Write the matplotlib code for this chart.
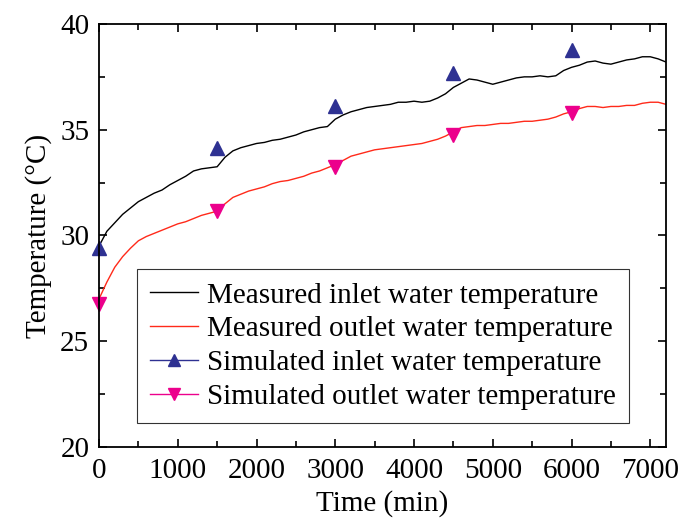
import matplotlib.pyplot as plt
from matplotlib.ticker import MultipleLocator

plt.rcParams['font.family'] = ['Liberation Serif', 'DejaVu Serif']

# measured data, read every 100 min
time_meas = list(range(0, 7201, 100))
inlet_meas = [29.5, 30.2, 30.6, 31.0, 31.3, 31.6, 31.8, 32.0, 32.15, 32.4,
              32.6, 32.8, 33.05, 33.15, 33.2, 33.25, 33.7, 34.0, 34.15, 34.25,
              34.35, 34.4, 34.5, 34.55, 34.65, 34.75, 34.9, 35.0, 35.1, 35.15,
              35.5, 35.7, 35.85, 35.95, 36.05, 36.1, 36.15, 36.2, 36.3, 36.3,
              36.35, 36.3, 36.35, 36.5, 36.7, 37.0, 37.2, 37.4, 37.35, 37.25,
              37.15, 37.25, 37.35, 37.45, 37.5, 37.5, 37.55, 37.5, 37.55, 37.8,
              37.95, 38.05, 38.2, 38.25, 38.15, 38.1, 38.2, 38.3, 38.35, 38.45,
              38.45, 38.35, 38.2]
outlet_meas = [27.0, 27.8, 28.5, 29.0, 29.4, 29.75, 29.95, 30.1, 30.25, 30.4,
               30.55, 30.65, 30.8, 30.95, 31.05, 31.15, 31.5, 31.8, 31.95, 32.1,
               32.2, 32.3, 32.45, 32.55, 32.6, 32.7, 32.8, 32.95, 33.05, 33.2,
               33.35, 33.55, 33.75, 33.85, 33.95, 34.05, 34.1, 34.15, 34.2, 34.25,
               34.3, 34.35, 34.45, 34.55, 34.7, 34.9, 35.1, 35.15, 35.2, 35.2,
               35.25, 35.3, 35.3, 35.35, 35.4, 35.4, 35.45, 35.5, 35.6, 35.75,
               35.85, 36.0, 36.1, 36.1, 36.05, 36.1, 36.1, 36.15, 36.15, 36.25,
               36.3, 36.3, 36.2]

# simulated data
time_sim = [0, 1500, 3000, 4500, 6000]
inlet_sim = [29.4, 34.15, 36.1, 37.7, 38.75]
outlet_sim = [26.75, 31.15, 33.25, 34.75, 35.8]

fig = plt.figure(figsize=(6.81, 5.27), dpi=100)
ax = fig.add_axes([0.1454, 0.1518, 0.978 - 0.1454, 0.9545 - 0.1518])

ax.plot(time_meas, inlet_meas, color='black', lw=1.0,
        label='Measured inlet water temperature')
ax.plot(time_meas, outlet_meas, color='#ff2a1a', lw=1.0,
        label='Measured outlet water temperature')
ax.plot(time_sim, inlet_sim, ls='none', marker='^', ms=10, color='#2e3192',
        label='Simulated inlet water temperature', clip_on=False)
ax.plot(time_sim, outlet_sim, ls='none', marker='v', ms=10, color='#ec008c',
        label='Simulated outlet water temperature', clip_on=False)

ax.set_xlim(0, 7200)
ax.set_ylim(20, 40)
ax.xaxis.set_major_locator(MultipleLocator(1000))
ax.xaxis.set_minor_locator(MultipleLocator(500))
ax.yaxis.set_major_locator(MultipleLocator(5))
ax.yaxis.set_minor_locator(MultipleLocator(2.5))
ax.tick_params(which='both', direction='in', top=True, right=True, labelsize=21, width=1.2)
ax.tick_params(which='major', length=6)
ax.tick_params(which='minor', length=4)
ax.tick_params(axis='x', pad=8)
ax.tick_params(axis='y', pad=7)
for s in ax.spines.values():
    s.set_linewidth(1.3)

ax.set_xlabel('Time (min)', fontsize=21, labelpad=4)
ax.set_ylabel('Temperature (°C)', fontsize=21, labelpad=6)

leg = ax.legend(loc='lower left', bbox_to_anchor=(0.067, 0.057), borderaxespad=0,
                fontsize=21, frameon=True, fancybox=False, edgecolor='black',
                handlelength=1.65, handletextpad=0.3, labelspacing=0.25,
                borderpad=0.45)
leg.get_frame().set_linewidth(0.8)
for h in leg.legend_handles[2:]:
    h.set_linestyle('-')
    h.set_linewidth(1.0)
    h.set_markersize(9)

fig.savefig('out.png', dpi=100)
